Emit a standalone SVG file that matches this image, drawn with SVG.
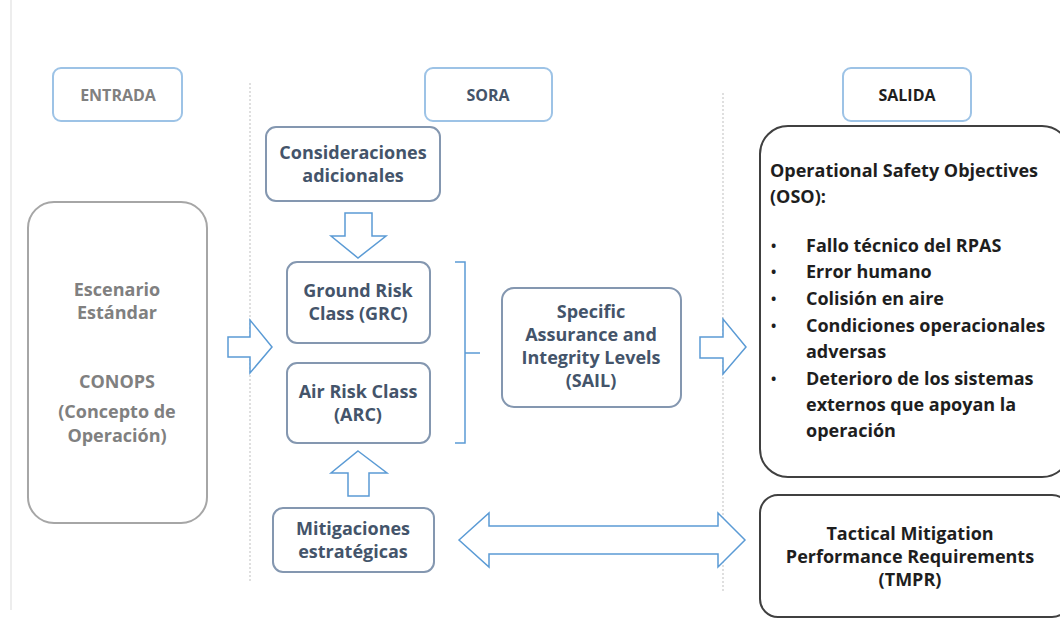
<svg xmlns="http://www.w3.org/2000/svg" width="1060" height="623" viewBox="0 0 1060 623">
<style>
text{font-family:"Open Sans",Lato,"Liberation Sans",sans-serif;font-weight:bold;text-anchor:middle}
.hdr{fill:#fff;stroke:#9DC3E6;stroke-width:2}
.node{fill:#fff;stroke:#8497B0;stroke-width:2}
.t{fill:#44546A;font-size:18px}
.g{fill:#808080;font-size:18px}
.k{fill:#1E1E1E;font-size:18px}
.h{font-size:16px}
.b{font-size:14px}
.arr{fill:#fff;stroke:#5B9BD5;stroke-width:1.5;stroke-linejoin:miter}
.dot{stroke:#BFBFBF;stroke-width:1;stroke-dasharray:2 2}
.l{text-anchor:start}
</style>
<rect width="1060" height="623" fill="#fff"/>
<line x1="11" y1="0" x2="11" y2="610" stroke="#EDEDED" stroke-width="2"/>
<g id="separators">
<line class="dot" x1="250" y1="83" x2="250" y2="582"/>
<line class="dot" x1="723" y1="93" x2="723" y2="592"/>
</g>
<g id="entrada"><rect class="hdr" x="53" y="68" width="129" height="53" rx="8"/><text class="g h" x="118" y="101">ENTRADA</text></g>
<g id="sora"><rect class="hdr" x="425" y="68" width="127" height="53" rx="8"/><text class="t h" x="488" y="101">SORA</text></g>
<g id="salida"><rect class="hdr" x="843" y="68" width="128" height="53" rx="8"/><text class="k h" x="907" y="101">SALIDA</text></g>
<g id="escenario"><rect x="28" y="202" width="179" height="321" rx="26" fill="#fff" stroke="#A6A6A6" stroke-width="2"/>
<text class="g" x="117" y="296">Escenario</text><text class="g" x="117" y="319">Estándar</text>
<text class="g" x="117" y="388">CONOPS</text>
<text class="g" x="117" y="418">(Concepto de</text><text class="g" x="117" y="442">Operación)</text></g>
<g id="consideraciones"><rect class="node" x="266" y="127" width="174" height="74" rx="10"/><text class="t" x="353" y="159">Consideraciones</text><text class="t" x="353" y="182">adicionales</text></g>
<g id="grc"><rect class="node" x="287" y="262" width="143" height="81" rx="10"/><text class="t" x="358" y="297">Ground Risk</text><text class="t" x="358" y="320">Class (GRC)</text></g>
<g id="arc"><rect class="node" x="287" y="363" width="143" height="80" rx="10"/><text class="t" x="358" y="398">Air Risk Class</text><text class="t" x="358" y="421">(ARC)</text></g>
<g id="sail"><rect class="node" x="502" y="288" width="179" height="119" rx="12"/><text class="t" x="591" y="318">Specific</text><text class="t" x="591" y="341">Assurance and</text><text class="t" x="591" y="364">Integrity Levels</text><text class="t" x="591" y="387">(SAIL)</text></g>
<g id="mitigaciones"><rect class="node" x="273" y="508" width="161" height="64" rx="10"/><text class="t" x="353" y="535">Mitigaciones</text><text class="t" x="353" y="558">estratégicas</text></g>
<g id="oso"><rect x="760" y="126" width="310" height="351" rx="28" fill="#fff" stroke="#404040" stroke-width="2"/>
<text class="k l" x="770" y="177">Operational Safety Objectives</text>
<text class="k l" x="770" y="203">(OSO):</text>
<text class="k l b" x="771" y="251">•</text><text class="k l" x="806" y="252">Fallo técnico del RPAS</text>
<text class="k l b" x="771" y="277">•</text><text class="k l" x="806" y="278">Error humano</text>
<text class="k l b" x="771" y="304">•</text><text class="k l" x="806" y="305">Colisión en aire</text>
<text class="k l b" x="771" y="331">•</text><text class="k l" x="806" y="332">Condiciones operacionales</text>
<text class="k l" x="806" y="358">adversas</text>
<text class="k l b" x="771" y="384">•</text><text class="k l" x="806" y="385">Deterioro de los sistemas</text>
<text class="k l" x="806" y="411">externos que apoyan la</text>
<text class="k l" x="806" y="437">operación</text>
</g>
<g id="tmpr"><rect x="760" y="495" width="310" height="122" rx="18" fill="#fff" stroke="#404040" stroke-width="2"/>
<text class="k" x="910" y="540">Tactical Mitigation</text><text class="k" x="910" y="563">Performance Requirements</text><text class="k" x="910" y="586">(TMPR)</text></g>
<g id="connectors">
<polygon class="arr" points="228,337 250,337 250,320 272,347 250,373 250,357 228,357"/>
<polygon class="arr" points="700,337 723,337 723,319 746,347 723,374 723,358 700,358"/>
<polygon class="arr" points="345,213 372,213 372,236 386,236 358,258 331,236 345,236"/>
<polygon class="arr" points="358,451 387,473 369,473 369,496 348,496 348,473 331,473"/>
<polygon class="arr" points="459,540 489,513 489,526 718,526 718,513 745,540 718,567 718,554 489,554 489,567"/>
<path d="M455,262 H465 V443 H455 M465,353 H480" fill="none" stroke="#5B9BD5" stroke-width="1.5"/>
</g>
</svg>
